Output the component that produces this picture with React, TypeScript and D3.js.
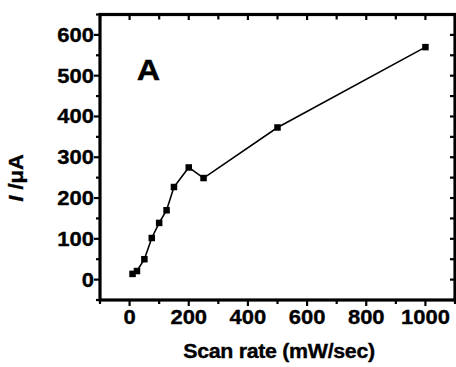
import React from "react";
import * as d3 from "d3";

const scanRate = [10, 25, 50, 75, 100, 125, 150, 200, 250, 500, 1000];
const current = [14, 21, 50, 102, 139, 170, 227, 275, 249, 373, 570];
const xTicks = [0, 200, 400, 600, 800, 1000];
const yTicks = [0, 100, 200, 300, 400, 500, 600];
const xMinor = [-100, 100, 300, 500, 700, 900, 1100];
const yMinor = [-50, 50, 150, 250, 350, 450, 550, 650];

const W = 456;
const H = 367;
const left = 100;
const right = 455;
const top = 14.5;
const bottom = 300;
const font = "'Liberation Sans', Arial, Helvetica, sans-serif";
const SX = 1.1;

export default function App() {
  const x = d3.scaleLinear().domain([-100, 1100]).range([left, right]);
  const y = d3.scaleLinear().domain([-50, 650]).range([bottom, top]);
  const pts: [number, number][] = scanRate.map((d, i) => [x(d), y(current[i])]);
  const line = d3.line()(pts) || "";
  const sq = 6.5;
  const textProps = {
    fontFamily: font,
    fontWeight: "bold" as const,
    fill: "#000",
    stroke: "#000",
    strokeWidth: 0.35,
  };
  return (
    <svg width={W} height={H} style={{ position: "absolute", left: 0, top: 0, background: "#fff" }}>
      <rect x={0} y={0} width={W} height={H} fill="#fff" />
      {/* ticks */}
      <g stroke="#000" strokeWidth={2.2}>
        {xTicks.map((t) => (
          <g key={"xt" + t}>
            <line x1={x(t)} x2={x(t)} y1={bottom} y2={bottom + 6} />
            <line x1={x(t)} x2={x(t)} y1={top} y2={top + 5.5} />
          </g>
        ))}
        {xMinor.map((t) => (
          <g key={"xm" + t}>
            <line x1={x(t)} x2={x(t)} y1={bottom} y2={bottom + 4} />
            <line x1={x(t)} x2={x(t)} y1={top} y2={top + 5} />
          </g>
        ))}
        {yTicks.map((t) => (
          <g key={"yt" + t}>
            <line x1={left - 6} x2={left} y1={y(t)} y2={y(t)} />
            <line x1={right - 5} x2={right} y1={y(t)} y2={y(t)} />
          </g>
        ))}
        {yMinor.map((t) => (
          <g key={"ym" + t}>
            <line x1={left - 4} x2={left} y1={y(t)} y2={y(t)} />
            <line x1={right - 5} x2={right} y1={y(t)} y2={y(t)} />
          </g>
        ))}
      </g>
      {/* frame */}
      <rect x={left} y={top} width={right - left} height={bottom - top} fill="none" stroke="#000" strokeWidth={3.2} />
      {/* data */}
      <path d={line} fill="none" stroke="#000" strokeWidth={1.6} />
      {pts.map((p, i) => (
        <rect key={i} x={p[0] - sq / 2} y={p[1] - sq / 2} width={sq} height={sq} fill="#000" />
      ))}
      {/* tick labels */}
      {xTicks.map((t) => (
        <text
          key={"xl" + t}
          transform={`translate(${x(t)},324) scale(${SX},1)`}
          textAnchor="middle"
          fontSize={20}
          {...textProps}
        >
          {t}
        </text>
      ))}
      {yTicks.map((t) => (
        <text
          key={"yl" + t}
          transform={`translate(94,${y(t) + 7}) scale(${SX},1)`}
          textAnchor="end"
          fontSize={20}
          {...textProps}
        >
          {t}
        </text>
      ))}
      {/* axis titles */}
      <text
        transform={`translate(279,358) scale(1.07,1)`}
        textAnchor="middle"
        fontSize={20}
        letterSpacing={-0.3}
        {...textProps}
      >
        Scan rate (mW/sec)
      </text>
      <text transform="translate(23,178) rotate(-90) scale(1.1,1)" textAnchor="middle" fontSize={20} {...textProps}>
        <tspan fontStyle="italic">I</tspan>
        <tspan> /μA</tspan>
      </text>
      <text transform="translate(148.5,80) scale(1.08,1)" textAnchor="middle" fontSize={30} {...textProps}>
        A
      </text>
    </svg>
  );
}
